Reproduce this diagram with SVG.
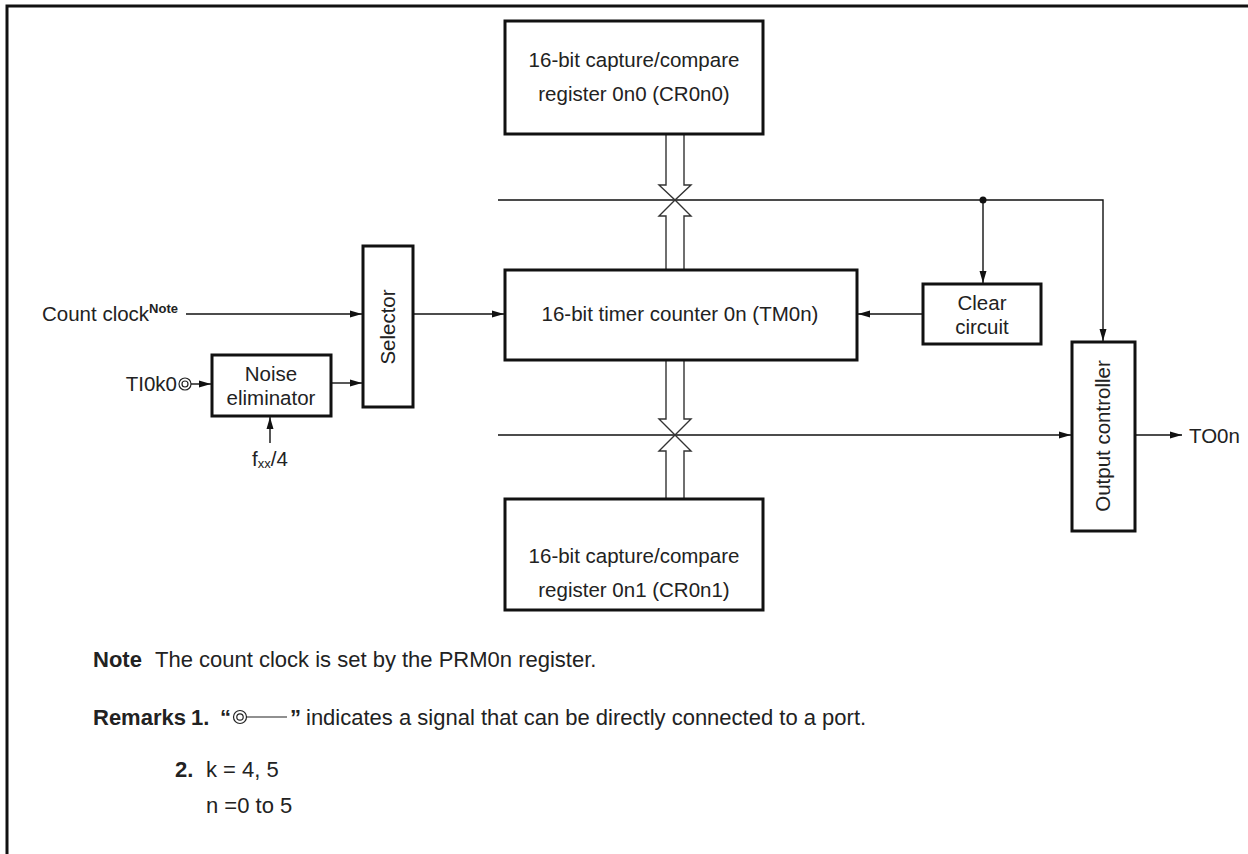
<svg xmlns="http://www.w3.org/2000/svg" width="1248" height="854" viewBox="0 0 1248 854">
<style>
.box{fill:#fff;stroke:#111;stroke-width:3}
.ln{fill:none;stroke:#111;stroke-width:1.4}
.bus{fill:#fff;stroke:#333;stroke-width:1.4}
.t{font-family:"Liberation Sans",Arial,sans-serif;font-size:20.5px;fill:#222}
.n{font-family:"Liberation Sans",Arial,sans-serif;font-size:22px;fill:#222}
.b{font-weight:bold}
.m{text-anchor:middle}
</style>
<defs>
<marker id="ah" markerWidth="12" markerHeight="8" refX="12" refY="4" orient="auto" markerUnits="userSpaceOnUse">
<path d="M0,0.5 L12,4 L0,7.5 Z" fill="#111"/>
</marker>
</defs>
<g id="frame">
<path d="M7,854 V6 H1248" fill="none" stroke="#111" stroke-width="3"/>
</g>
<g id="connectors">
<polyline class="ln" points="498,200 1103,200 1103,341" marker-end="url(#ah)"/>
<line class="ln" x1="983" y1="200" x2="983" y2="283" marker-end="url(#ah)"/>
<circle cx="983" cy="200" r="3.5" fill="#111"/>
<line class="ln" x1="923" y1="314" x2="858" y2="314" marker-end="url(#ah)"/>
<line class="ln" x1="413" y1="314" x2="504" y2="314" marker-end="url(#ah)"/>
<line class="ln" x1="186" y1="314" x2="362" y2="314" marker-end="url(#ah)"/>
<line class="ln" x1="331" y1="383" x2="362" y2="383" marker-end="url(#ah)"/>
<line class="ln" x1="191" y1="384" x2="211" y2="384" marker-end="url(#ah)"/>
<line class="ln" x1="270" y1="443" x2="270" y2="417" marker-end="url(#ah)"/>
<line class="ln" x1="498" y1="435" x2="1071" y2="435" marker-end="url(#ah)"/>
<line class="ln" x1="1135" y1="435" x2="1182" y2="435" marker-end="url(#ah)"/>
<polyline class="bus" points="666,135 666,185 659,185 675,200 691,185 684,185 684,135"/>
<polyline class="bus" points="666,270 666,216 659,216 675,200 691,216 684,216 684,270"/>
<polyline class="bus" points="666,360 666,419 659,419 675,435 691,419 684,419 684,360"/>
<polyline class="bus" points="666,499 666,451 659,451 675,435 691,451 684,451 684,499"/>
</g>
<g id="cr0n0">
<rect class="box" x="505" y="21" width="258" height="113"/>
<text class="t m" x="634" y="67">16-bit capture/compare</text>
<text class="t m" x="634" y="101">register 0n0 (CR0n0)</text>
</g>
<g id="tm0n">
<rect class="box" x="505" y="270" width="352" height="90"/>
<text class="t m" x="680" y="321">16-bit timer counter 0n (TM0n)</text>
</g>
<g id="cr0n1">
<rect class="box" x="505" y="499" width="258" height="111"/>
<text class="t m" x="634" y="563">16-bit capture/compare</text>
<text class="t m" x="634" y="597">register 0n1 (CR0n1)</text>
</g>
<g id="selector">
<rect class="box" x="363" y="246" width="50" height="161"/>
<text class="t m" transform="translate(395,327) rotate(-90)">Selector</text>
</g>
<g id="noise">
<rect class="box" x="212" y="355" width="119" height="61"/>
<text class="t m" x="271" y="381">Noise</text>
<text class="t m" x="271" y="405">eliminator</text>
</g>
<g id="clear">
<rect class="box" x="923" y="284" width="118" height="60"/>
<text class="t m" x="982" y="310">Clear</text>
<text class="t m" x="982" y="334">circuit</text>
</g>
<g id="output">
<rect class="box" x="1072" y="342" width="63" height="189"/>
<text class="t m" transform="translate(1110,436) rotate(-90)">Output controller</text>
</g>
<g id="labels">
<text class="t" x="42" y="321">Count clock<tspan font-size="13" font-weight="bold" dy="-8">Note</tspan></text>
<text class="t" x="177" y="391" text-anchor="end">TI0k0</text>
<circle cx="185" cy="384" r="6" fill="#fff" stroke="#222" stroke-width="1.2"/>
<circle cx="185" cy="384" r="3" fill="none" stroke="#222" stroke-width="1.2"/>
<text class="t m" x="270" y="466">f<tspan font-size="13" dy="2">xx</tspan><tspan dy="-2">/4</tspan></text>
<text class="t" x="1189" y="443">TO0n</text>
</g>
<g id="notes">
<text class="n b" x="93" y="667">Note</text>
<text class="n" x="155" y="667">The count clock is set by the PRM0n register.</text>
<text class="n b" x="93" y="725">Remarks</text>
<text class="n b" x="191" y="725">1.</text>
<text class="n b" x="220" y="725">“</text>
<circle cx="240" cy="717" r="6.5" fill="#fff" stroke="#222" stroke-width="1.2"/>
<circle cx="240" cy="717" r="3.2" fill="none" stroke="#222" stroke-width="1.2"/>
<line x1="246.5" y1="717" x2="287" y2="717" stroke="#222" stroke-width="1.2"/>
<text class="n b" x="290" y="725">”</text>
<text class="n" x="306" y="725">indicates a signal that can be directly connected to a port.</text>
<text class="n b" x="175" y="777">2.</text>
<text class="n" x="206" y="777">k = 4, 5</text>
<text class="n" x="206" y="813">n =0 to 5</text>
</g>
</svg>
